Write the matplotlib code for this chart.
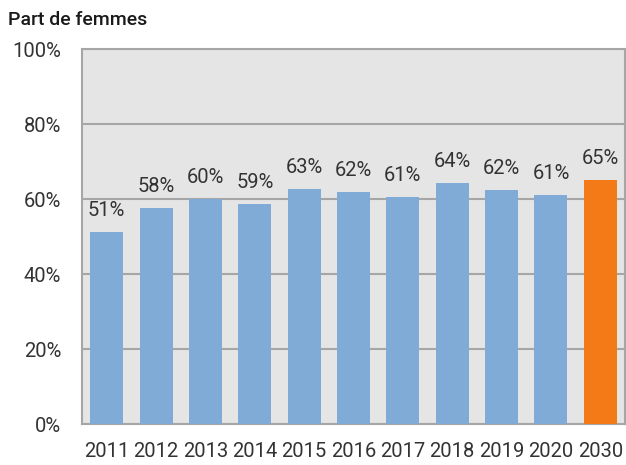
import numpy as np
import matplotlib.pyplot as plt

plt.rcParams['font.family'] = ['Roboto', 'DejaVu Sans']

years = ['2011', '2012', '2013', '2014', '2015', '2016', '2017', '2018', '2019', '2020', '2030']
values = [51.2, 57.6, 59.9, 58.7, 62.7, 61.9, 60.6, 64.2, 62.3, 61.1, 65.1]
labels = ['51%', '58%', '60%', '59%', '63%', '62%', '61%', '64%', '62%', '61%', '65%']

blue = '#80abd7'
orange = '#f47a17'
colors = [blue] * 10 + [orange]

fig = plt.figure(figsize=(6.26, 4.65), dpi=100)
ax = fig.add_axes([82 / 626, 1 - 424 / 465, 543 / 626, 375 / 465])
ax.set_facecolor('#e5e5e5')

x = np.arange(len(years))
ax.bar(x, values, width=0.67, color=colors, zorder=3)
for xi, v, lab in zip(x, values, labels):
    ax.text(xi, v + 4.3, lab, ha='center', va='baseline', fontsize=14.5,
            color='#333333', zorder=4)

ax.set_xlim(-0.5, len(years) - 0.5)
ax.set_ylim(0, 100)
ax.set_yticks([0, 20, 40, 60, 80, 100])
ax.set_yticklabels(['0%', '20%', '40%', '60%', '80%', '100%'])
ax.set_xticks(x)
ax.set_xticklabels(years)
ax.yaxis.grid(True, color='#a6a6a6', linewidth=1.5, zorder=1)
ax.tick_params(axis='both', length=0, labelsize=14.5, colors='#333333')
ax.tick_params(axis='y', pad=15)
ax.tick_params(axis='x', pad=13)
for s in ax.spines.values():
    s.set_color('#a6a6a6')
    s.set_linewidth(1.5)

fig.text(8 / 626, 1 - 20 / 465, 'Part de femmes', fontsize=14, fontweight='medium',
         color='#1a1a1a', ha='left', va='center')

fig.savefig('out.png', dpi=100)
